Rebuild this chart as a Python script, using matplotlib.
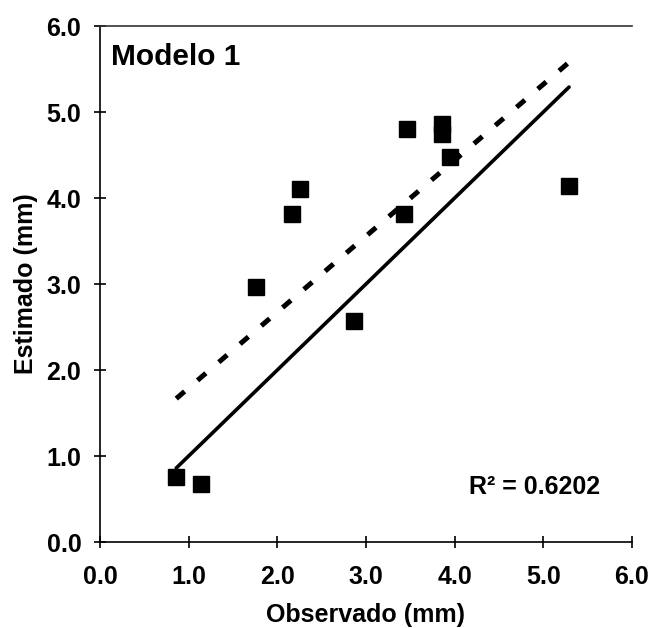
import numpy as np
from matplotlib import pyplot as plt

observado = [0.86, 1.14, 1.76, 2.17, 2.26, 2.86, 3.43, 3.46, 3.86, 3.86, 3.95, 5.29]
estimado = [0.76, 0.67, 2.96, 3.81, 4.11, 2.57, 3.81, 4.80, 4.86, 4.74, 4.48, 4.14]
ticks = [0.0, 1.0, 2.0, 3.0, 4.0, 5.0, 6.0]
tick_labels = ["0.0", "1.0", "2.0", "3.0", "4.0", "5.0", "6.0"]
r2_label = "R² = 0.6202"

plt.rcParams["font.family"] = ["Liberation Sans", "DejaVu Sans"]
plt.rcParams["font.weight"] = "bold"

fig = plt.figure(figsize=(6.54, 6.28), dpi=100)
ax = fig.add_axes([100 / 654, 86 / 628, 532 / 654, 516 / 628])

x = np.array(observado)
y = np.array(estimado)
xr = np.array([x.min(), x.max()])

# 1:1 line over the data range
ax.plot(xr, xr, color="black", lw=2.6, solid_capstyle="round", zorder=2)

# linear fit (dashed)
slope, intercept = np.polyfit(x, y, 1)
ax.plot(xr, slope * xr + intercept, color="black", lw=3.6, dashes=(2.2, 3.4), zorder=2)

ax.plot(x, y, "s", color="black", markersize=11.5, zorder=3)

ax.set_xlim(0, 6)
ax.set_ylim(0, 6)
ax.set_xticks(ticks)
ax.set_yticks(ticks)
ax.set_xticklabels(tick_labels, fontsize=18, fontweight="bold")
ax.set_yticklabels(tick_labels, fontsize=18, fontweight="bold")
ax.tick_params(direction="inout", length=9, width=1.2)
ax.tick_params(axis="x", pad=12)
ax.tick_params(axis="y", pad=9)

ax.spines["right"].set_visible(False)
ax.spines["top"].set_linewidth(1.2)
ax.spines["top"].set_color("#333333")
ax.spines["left"].set_linewidth(1.2)
ax.spines["bottom"].set_linewidth(1.2)

ax.set_xlabel("Observado (mm)", fontsize=18, fontweight="bold", labelpad=10)
ax.set_ylabel("Estimado (mm)", fontsize=18, fontweight="bold", labelpad=6)

ax.text(0.02, 0.94, "Modelo 1", transform=ax.transAxes, fontsize=21.5,
        fontweight="bold", ha="left", va="center")
ax.text(0.94, 0.107, r2_label, transform=ax.transAxes, fontsize=18,
        fontweight="bold", ha="right", va="center")

plt.savefig("out.png", dpi=100)
